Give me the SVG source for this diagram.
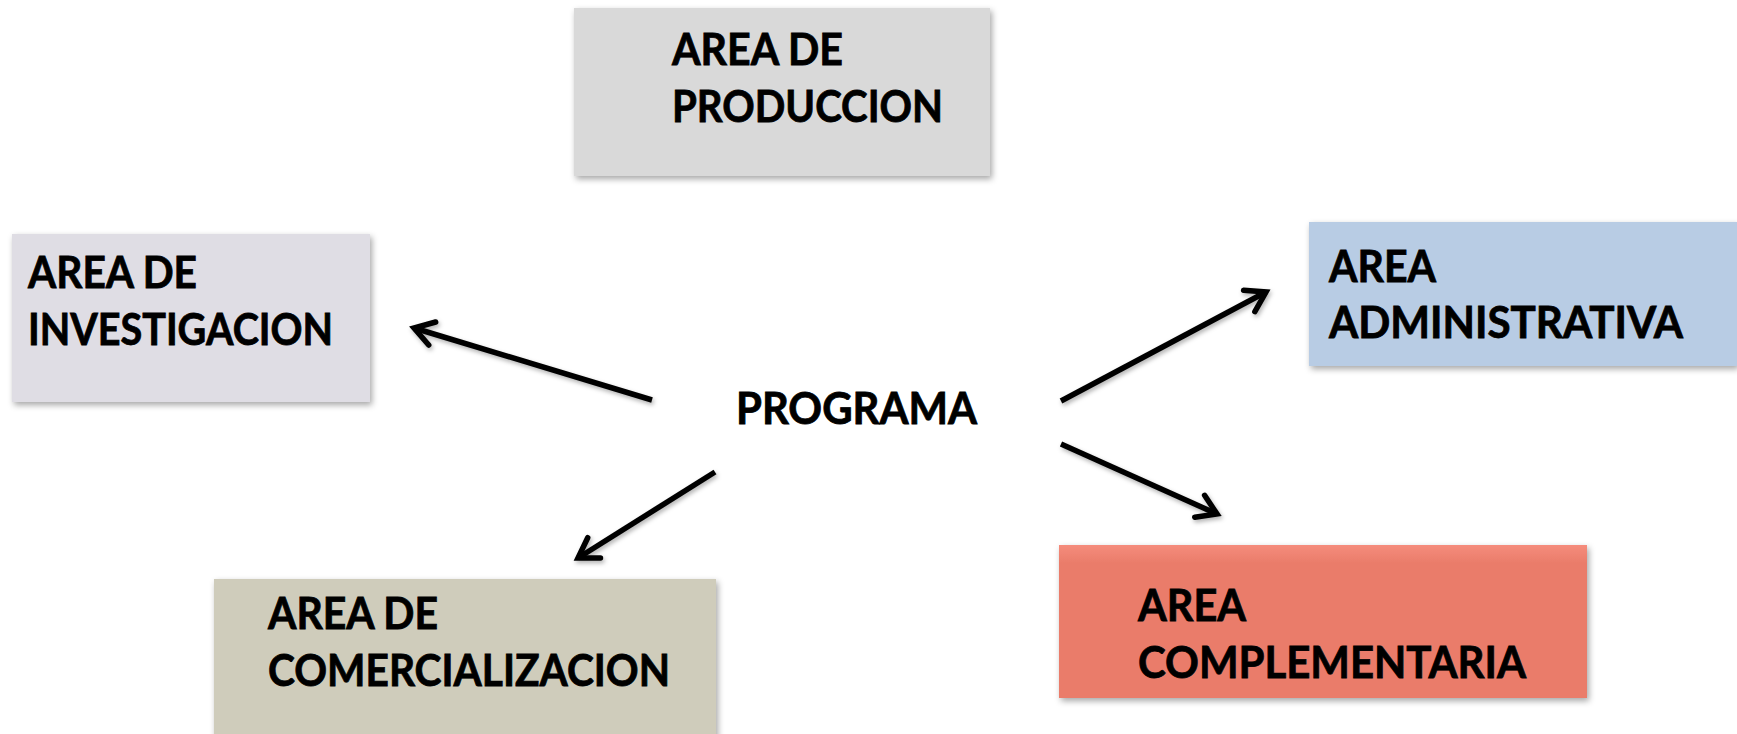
<svg xmlns="http://www.w3.org/2000/svg" width="1737" height="734" viewBox="0 0 1737 734">
  <style>
    .lbl { font-family: Lato, "Liberation Sans", Arial, sans-serif; font-weight: bold; font-size: 44px; fill: #000; stroke: #000; stroke-width: 0.8px; }
    .arrow { stroke: #000; stroke-width: 5.5; fill: none; marker-end: url(#head); filter: url(#ashadow); }
  </style>
  <defs>
    <filter id="shadow" x="-10%" y="-10%" width="125%" height="130%">
      <feDropShadow dx="2" dy="3" stdDeviation="3" flood-color="#000" flood-opacity="0.35"/>
    </filter>
    <filter id="ashadow" x="-20%" y="-20%" width="140%" height="140%">
      <feDropShadow dx="1.5" dy="2.5" stdDeviation="2" flood-color="#000" flood-opacity="0.3"/>
    </filter>
    <marker id="head" markerUnits="userSpaceOnUse" markerWidth="40" markerHeight="40" refX="0" refY="0" orient="auto" overflow="visible">
      <path d="M -19 -12 L 0 0 L -19 12" stroke="#000" stroke-width="5.5" fill="none" stroke-linecap="round" stroke-linejoin="miter"/>
    </marker>
    <linearGradient id="redgrad" x1="0" y1="0" x2="0" y2="1">
      <stop offset="0" stop-color="#f58c7c"/>
      <stop offset="0.12" stop-color="#ea7c6a"/>
      <stop offset="1" stop-color="#ea7c6a"/>
    </linearGradient>
  </defs>

  <rect width="1737" height="734" fill="#ffffff"/>

  <g id="produccion">
    <rect x="574" y="8" width="416" height="168" fill="#d9d9d9" filter="url(#shadow)"/>
    <text class="lbl" x="672" y="65" textLength="171" lengthAdjust="spacingAndGlyphs">AREA DE</text>
    <text class="lbl" x="672" y="122" textLength="271" lengthAdjust="spacingAndGlyphs">PRODUCCION</text>
  </g>

  <g id="investigacion">
    <rect x="12" y="234" width="358" height="168" fill="#dfdde4" filter="url(#shadow)"/>
    <text class="lbl" x="28" y="288" textLength="169" lengthAdjust="spacingAndGlyphs">AREA DE</text>
    <text class="lbl" x="28" y="345" textLength="305" lengthAdjust="spacingAndGlyphs">INVESTIGACION</text>
  </g>

  <g id="administrativa">
    <rect x="1309" y="222" width="428" height="144" fill="#b8cce4" filter="url(#shadow)"/>
    <text class="lbl" x="1329" y="282" textLength="107" lengthAdjust="spacingAndGlyphs">AREA</text>
    <text class="lbl" x="1329" y="338" textLength="354" lengthAdjust="spacingAndGlyphs">ADMINISTRATIVA</text>
  </g>

  <g id="comercializacion">
    <rect x="214" y="579" width="502" height="170" fill="#cfccbb" filter="url(#shadow)"/>
    <text class="lbl" x="268" y="629" textLength="170" lengthAdjust="spacingAndGlyphs">AREA DE</text>
    <text class="lbl" x="268" y="686" textLength="402" lengthAdjust="spacingAndGlyphs">COMERCIALIZACION</text>
  </g>

  <g id="complementaria">
    <rect x="1059" y="545" width="528" height="153" fill="url(#redgrad)" filter="url(#shadow)"/>
    <text class="lbl" x="1138" y="621" textLength="108" lengthAdjust="spacingAndGlyphs">AREA</text>
    <text class="lbl" x="1138" y="678" textLength="388" lengthAdjust="spacingAndGlyphs">COMPLEMENTARIA</text>
  </g>

  <g id="programa">
    <text class="lbl" x="736" y="424" textLength="241" lengthAdjust="spacingAndGlyphs">PROGRAMA</text>
  </g>

  <g id="connectors">
    <line class="arrow" x1="843" y1="327" x2="843" y2="226"/>
    <line class="arrow" x1="652" y1="400" x2="414" y2="328"/>
    <line class="arrow" x1="1061" y1="401" x2="1266" y2="292"/>
    <line class="arrow" x1="1061" y1="444" x2="1217" y2="514"/>
    <line class="arrow" x1="715" y1="472" x2="578" y2="558"/>
  </g>
</svg>
